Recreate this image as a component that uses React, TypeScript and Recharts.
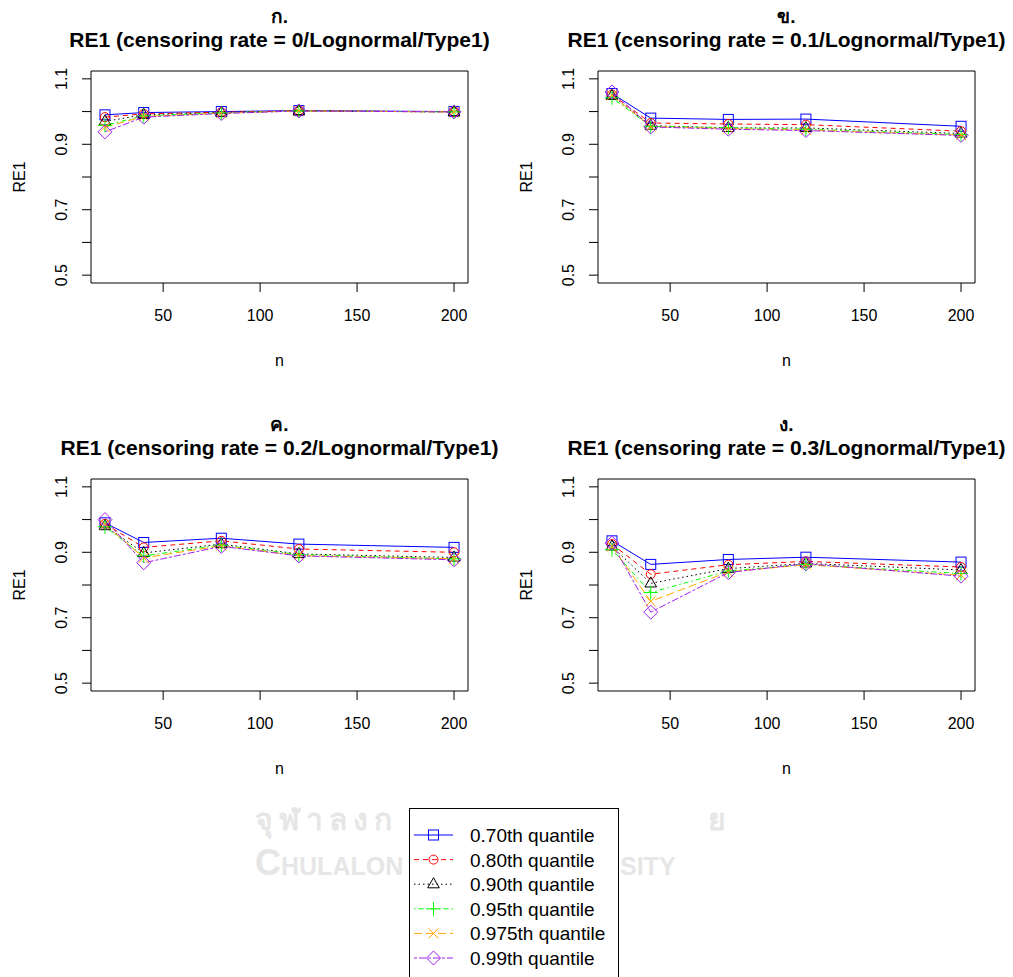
import React from "react"
import { LineChart, Line, XAxis, YAxis, ReferenceArea } from "recharts"

const nValues = [20, 40, 80, 120, 200]
const xTicks = [50, 100, 150, 200]
const yTicks = [0.5, 0.6, 0.7, 0.8, 0.9, 1.0, 1.1]
const yLabelled = [0.5, 0.7, 0.9, 1.1]
const panelLetters = ["ก.", "ข.", "ค.", "ง."]
const censoringRates = ["0", "0.1", "0.2", "0.3"]
const quantileNames = [
  "0.70th quantile",
  "0.80th quantile",
  "0.90th quantile",
  "0.95th quantile",
  "0.975th quantile",
  "0.99th quantile",
]

// censoring rate = 0
const p1q70 = [0.99, 0.997, 1.0, 1.003, 1.0]
const p1q80 = [0.983, 0.993, 0.998, 1.002, 0.999]
const p1q90 = [0.97, 0.99, 0.997, 1.002, 0.999]
const p1q95 = [0.958, 0.987, 0.996, 1.002, 0.999]
const p1q975 = [0.952, 0.985, 0.995, 1.002, 0.999]
const p1q99 = [0.938, 0.983, 0.994, 1.002, 0.999]

// censoring rate = 0.1
const p2q70 = [1.055, 0.98, 0.976, 0.977, 0.955]
const p2q80 = [1.052, 0.965, 0.962, 0.96, 0.94]
const p2q90 = [1.048, 0.957, 0.95, 0.95, 0.933]
const p2q95 = [1.042, 0.955, 0.951, 0.946, 0.93]
const p2q975 = [1.05, 0.954, 0.948, 0.944, 0.928]
const p2q99 = [1.06, 0.953, 0.946, 0.942, 0.927]

// censoring rate = 0.2
const p3q70 = [0.99, 0.93, 0.943, 0.925, 0.915]
const p3q80 = [0.987, 0.915, 0.935, 0.91, 0.9]
const p3q90 = [0.98, 0.898, 0.925, 0.895, 0.884]
const p3q95 = [0.978, 0.889, 0.922, 0.893, 0.88]
const p3q975 = [0.985, 0.883, 0.92, 0.89, 0.88]
const p3q99 = [1.0, 0.868, 0.918, 0.889, 0.877]

// censoring rate = 0.3
const p4q70 = [0.935, 0.863, 0.878, 0.885, 0.87]
const p4q80 = [0.925, 0.833, 0.862, 0.872, 0.855]
const p4q90 = [0.918, 0.805, 0.85, 0.866, 0.846]
const p4q95 = [0.908, 0.777, 0.843, 0.863, 0.835]
const p4q975 = [0.918, 0.75, 0.84, 0.862, 0.83]
const p4q99 = [0.928, 0.717, 0.838, 0.865, 0.827]

const panels = [
  [p1q70, p1q80, p1q90, p1q95, p1q975, p1q99],
  [p2q70, p2q80, p2q90, p2q95, p2q975, p2q99],
  [p3q70, p3q80, p3q90, p3q95, p3q975, p3q99],
  [p4q70, p4q80, p4q90, p4q95, p4q975, p4q99],
]

const keys = ["q70", "q80", "q90", "q95", "q975", "q99"]
const colors = ["#0000FF", "#FF0000", "#000000", "#00FF00", "#FFA500", "#A020F0"]
const dashes = ["", "5 4", "1.5 3", "1.5 3 5 3", "8 4", "3 2 7 2"]
const shapes = ["square", "circle", "triangle", "plus", "cross", "diamond"]

const FONT = "Arial, 'Liberation Sans', sans-serif"
const CHART_W = 507
const CHART_H = 408
const WATERMARK = "#e6e6e6"

function Marker({ shape, x, y, color }: { shape: string; x: number; y: number; color: string }) {
  const p = { stroke: color, strokeWidth: 1, fill: "none" }
  if (shape === "square") return <rect x={x - 5} y={y - 5} width={10} height={10} {...p} />
  if (shape === "circle") return <circle cx={x} cy={y} r={4.5} {...p} />
  if (shape === "triangle")
    return <polygon points={`${x},${y - 6.5} ${x - 5.8},${y + 3.6} ${x + 5.8},${y + 3.6}`} {...p} />
  if (shape === "plus")
    return <path d={`M${x - 7},${y}H${x + 7}M${x},${y - 7}V${y + 7}`} {...p} />
  if (shape === "cross")
    return <path d={`M${x - 5},${y - 5}L${x + 5},${y + 5}M${x - 5},${y + 5}L${x + 5},${y - 5}`} {...p} />
  return <polygon points={`${x},${y - 7} ${x + 7},${y} ${x},${y + 7} ${x - 7},${y}`} {...p} />
}

function dotFor(i: number) {
  return (props: any) => {
    const { cx, cy, index } = props
    if (cx == null || cy == null) return <g key={`d${i}-${index}`} />
    return (
      <g key={`d${i}-${index}`}>
        <Marker shape={shapes[i]} x={cx} y={cy} color={colors[i]} />
      </g>
    )
  }
}

function XTick(props: any) {
  const { x, y, payload } = props
  return (
    <text x={x} y={y + 27} textAnchor="middle" fontSize={16} fontFamily={FONT} fill="#000">
      {payload.value}
    </text>
  )
}

function YTick(props: any) {
  const { x, y, payload } = props
  if (!yLabelled.some((v) => Math.abs(v - payload.value) < 1e-6)) return <g />
  const tx = x - 13
  return (
    <text
      x={tx}
      y={y}
      transform={`rotate(-90, ${tx}, ${y})`}
      textAnchor="middle"
      fontSize={16}
      fontFamily={FONT}
      fill="#000"
    >
      {payload.value.toFixed(1)}
    </text>
  )
}

function Panel({ idx }: { idx: number }) {
  const series = panels[idx]
  const data = nValues.map((n, j) => {
    const row: any = { n }
    keys.forEach((k, i) => (row[k] = series[i][j]))
    return row
  })
  const cx = 91 + 377 / 2
  return (
    <LineChart
      width={CHART_W}
      height={CHART_H}
      data={data}
      margin={{ top: 71, right: 39, bottom: 0, left: 0 }}
    >
      <text x={cx} y={23} textAnchor="middle" fontSize={19} fontWeight="bold" fontFamily={FONT} fill="#000">
        {panelLetters[idx]}
      </text>
      <text x={cx} y={47} textAnchor="middle" fontSize={21} fontWeight="bold" fontFamily={FONT} fill="#000">
        {`RE1 (censoring rate = ${censoringRates[idx]}/Lognormal/Type1)`}
      </text>
      <text x={cx} y={366} textAnchor="middle" fontSize={16} fontFamily={FONT} fill="#000">
        n
      </text>
      <text
        x={25}
        y={177}
        transform="rotate(-90, 25, 177)"
        textAnchor="middle"
        fontSize={16}
        fontFamily={FONT}
        fill="#000"
      >
        RE1
      </text>
      <XAxis
        dataKey="n"
        type="number"
        domain={[12.8, 207.2]}
        allowDataOverflow
        ticks={xTicks}
        height={CHART_H - 71 - 212}
        axisLine={false}
        tickSize={9}
        tickLine={{ stroke: "#000" }}
        tick={<XTick />}
        interval={0}
      />
      <YAxis
        type="number"
        domain={[0.476, 1.124]}
        allowDataOverflow
        ticks={yTicks}
        width={91}
        axisLine={false}
        tickSize={9}
        tickLine={{ stroke: "#000" }}
        tick={<YTick />}
        interval={0}
      />
      <ReferenceArea
        x1={12.8}
        x2={207.2}
        y1={0.476}
        y2={1.124}
        fill="none"
        stroke="#000"
        strokeWidth={1}
        ifOverflow="visible"
      />
      {keys.map((k, i) => (
        <Line
          key={k}
          dataKey={k}
          stroke={colors[i]}
          strokeWidth={1}
          strokeDasharray={dashes[i] || undefined}
          dot={dotFor(i)}
          activeDot={false}
          isAnimationActive={false}
          type="linear"
        />
      ))}
    </LineChart>
  )
}

function LegendBox() {
  return (
    <div
      style={{
        position: "absolute",
        left: 409,
        top: 808,
        width: 210,
        height: 170,
        border: "1px solid #000",
        background: "#fff",
        boxSizing: "border-box",
      }}
    >
      <svg width={210} height={170} style={{ position: "absolute", left: 0, top: 0 }}>
        {quantileNames.map((name, i) => {
          const y = 26 + i * 24.6
          return (
            <g key={name}>
              <line
                x1={4}
                x2={43}
                y1={y}
                y2={y}
                stroke={colors[i]}
                strokeWidth={1}
                strokeDasharray={dashes[i] || undefined}
              />
              <Marker shape={shapes[i]} x={23.5} y={y} color={colors[i]} />
              <text x={60} y={y + 7} fontSize={19} fontFamily={FONT} fill="#000">
                {name}
              </text>
            </g>
          )
        })}
      </svg>
    </div>
  )
}

function Watermark() {
  const thai = {
    position: "absolute" as const,
    fontFamily: "'Noto Sans', 'DejaVu Sans', sans-serif",
    color: WATERMARK,
    fontSize: 30,
    fontWeight: "bold" as const,
    letterSpacing: 6,
    whiteSpace: "nowrap" as const,
  }
  const latin = {
    position: "absolute" as const,
    fontFamily: "'Liberation Sans Narrow', 'Liberation Sans', sans-serif",
    color: WATERMARK,
    fontSize: 36,
    fontWeight: "bold" as const,
    fontVariant: "small-caps" as const,
    whiteSpace: "nowrap" as const,
  }
  return (
    <>
      <div style={{ ...thai, left: 255, top: 796 }}>จุฬาลงก</div>
      <div style={{ ...thai, left: 708, top: 796 }}>ย</div>
      <div style={{ ...latin, left: 255, top: 842 }}>Chulalon</div>
      <div style={{ ...latin, left: 620, top: 842 }}>sity</div>
    </>
  )
}

export default function App() {
  return (
    <div
      style={{
        position: "absolute",
        left: 0,
        top: 0,
        width: 1013,
        height: 977,
        background: "#fff",
        overflow: "hidden",
      }}
    >
      <Watermark />
      {[0, 1, 2, 3].map((i) => (
        <div
          key={i}
          style={{ position: "absolute", left: (i % 2) * CHART_W, top: Math.floor(i / 2) * CHART_H }}
        >
          <Panel idx={i} />
        </div>
      ))}
      <LegendBox />
    </div>
  )
}
